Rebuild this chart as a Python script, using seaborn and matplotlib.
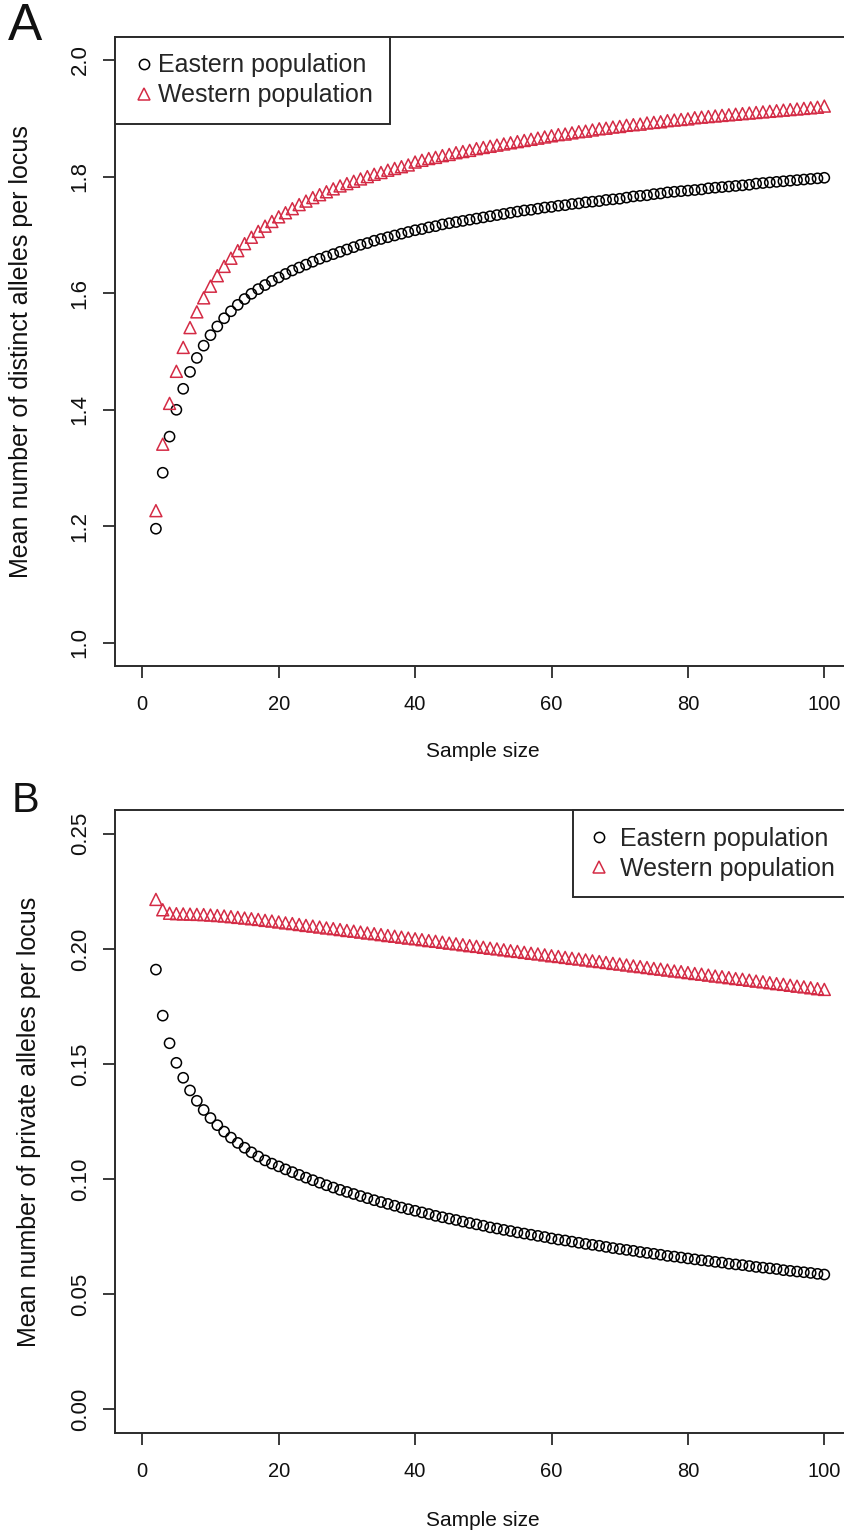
import numpy as np
import pandas as pd
import matplotlib
matplotlib.use("Agg")
import matplotlib.pyplot as plt
from matplotlib.lines import Line2D
import seaborn as sns

# ---------------- data ----------------
sample_size = list(range(2, 101))

eastern_distinct = [
    1.196, 1.292, 1.354, 1.400, 1.436, 1.465, 1.489, 1.510, 1.528, 1.543,
    1.557, 1.569, 1.580, 1.590, 1.599, 1.607, 1.614, 1.621, 1.627, 1.633,
    1.639, 1.644, 1.649, 1.654, 1.659, 1.663, 1.667, 1.671, 1.675, 1.679,
    1.683, 1.686, 1.690, 1.693, 1.696, 1.699, 1.702, 1.705, 1.708, 1.710,
    1.713, 1.715, 1.718, 1.720, 1.722, 1.724, 1.726, 1.728, 1.730, 1.732,
    1.734, 1.736, 1.738, 1.740, 1.742, 1.743, 1.745, 1.747, 1.748, 1.750,
    1.751, 1.753, 1.754, 1.756, 1.757, 1.758, 1.760, 1.761, 1.762, 1.764,
    1.766, 1.767, 1.768, 1.770, 1.771, 1.773, 1.774, 1.775, 1.776, 1.777,
    1.778, 1.780, 1.781, 1.782, 1.783, 1.784, 1.785, 1.786, 1.788, 1.789,
    1.790, 1.791, 1.792, 1.793, 1.794, 1.795, 1.796, 1.797, 1.798,
]

western_distinct = [
    1.227, 1.341, 1.411, 1.466, 1.507, 1.541, 1.568, 1.592, 1.612, 1.630,
    1.646, 1.660, 1.673, 1.685, 1.696, 1.706, 1.715, 1.723, 1.731, 1.738,
    1.745, 1.752, 1.758, 1.764, 1.769, 1.774, 1.779, 1.784, 1.788, 1.792,
    1.796, 1.800, 1.804, 1.807, 1.811, 1.814, 1.817, 1.820, 1.825, 1.828,
    1.831, 1.833, 1.836, 1.838, 1.841, 1.843, 1.845, 1.848, 1.850, 1.852,
    1.854, 1.856, 1.858, 1.860, 1.862, 1.864, 1.866, 1.868, 1.870, 1.872,
    1.873, 1.875, 1.877, 1.878, 1.880, 1.882, 1.883, 1.885, 1.886, 1.888,
    1.889, 1.890, 1.892, 1.893, 1.894, 1.896, 1.897, 1.898, 1.899, 1.901,
    1.902, 1.903, 1.904, 1.905, 1.906, 1.907, 1.908, 1.909, 1.910, 1.911,
    1.912, 1.913, 1.914, 1.915, 1.916, 1.917, 1.918, 1.919, 1.921,
]

eastern_private = [
    0.1910, 0.1710, 0.1590, 0.1505, 0.1440, 0.1385, 0.1340, 0.1300, 0.1265,
    0.1234, 0.1206, 0.1180, 0.1157, 0.1136, 0.1116, 0.1098, 0.1081, 0.1067,
    0.1055, 0.1042, 0.1030, 0.1018, 0.1006, 0.0995, 0.0984, 0.0973, 0.0963,
    0.0953, 0.0944, 0.0935, 0.0926, 0.0917, 0.0908, 0.0900, 0.0892, 0.0884,
    0.0876, 0.0869, 0.0862, 0.0855, 0.0848, 0.0840, 0.0834, 0.0828, 0.0822,
    0.0815, 0.0809, 0.0803, 0.0797, 0.0790, 0.0785, 0.0779, 0.0774, 0.0768,
    0.0763, 0.0758, 0.0753, 0.0748, 0.0742, 0.0737, 0.0733, 0.0728, 0.0723,
    0.0718, 0.0714, 0.0710, 0.0705, 0.0700, 0.0696, 0.0692, 0.0688, 0.0683,
    0.0679, 0.0675, 0.0671, 0.0666, 0.0663, 0.0659, 0.0655, 0.0651, 0.0647,
    0.0644, 0.0640, 0.0637, 0.0632, 0.0629, 0.0626, 0.0622, 0.0618, 0.0615,
    0.0612, 0.0609, 0.0604, 0.0601, 0.0598, 0.0595, 0.0592, 0.0588, 0.0585,
]

western_private = [
    0.2215, 0.2170, 0.2155, 0.2153, 0.2152, 0.2151, 0.2150, 0.2149, 0.2147,
    0.2145, 0.2143, 0.2140, 0.2137, 0.2134, 0.2131, 0.2128, 0.2124, 0.2121,
    0.2117, 0.2113, 0.2110, 0.2106, 0.2102, 0.2099, 0.2095, 0.2091, 0.2088,
    0.2084, 0.2080, 0.2077, 0.2073, 0.2069, 0.2066, 0.2062, 0.2058, 0.2055,
    0.2051, 0.2047, 0.2044, 0.2040, 0.2036, 0.2033, 0.2029, 0.2025, 0.2022,
    0.2018, 0.2014, 0.2011, 0.2007, 0.2003, 0.2000, 0.1996, 0.1992, 0.1989,
    0.1985, 0.1981, 0.1978, 0.1974, 0.1970, 0.1967, 0.1963, 0.1959, 0.1956,
    0.1952, 0.1948, 0.1945, 0.1941, 0.1937, 0.1934, 0.1930, 0.1926, 0.1923,
    0.1919, 0.1915, 0.1912, 0.1908, 0.1904, 0.1901, 0.1897, 0.1893, 0.1890,
    0.1886, 0.1882, 0.1879, 0.1875, 0.1871, 0.1868, 0.1864, 0.1860, 0.1857,
    0.1853, 0.1849, 0.1846, 0.1842, 0.1838, 0.1835, 0.1831, 0.1827, 0.1824,
]

series_labels = ["Eastern population", "Western population"]
x_ticks = [0, 20, 40, 60, 80, 100]
yticks_a = [1.0, 1.2, 1.4, 1.6, 1.8, 2.0]
yticks_b = [0.00, 0.05, 0.10, 0.15, 0.20, 0.25]
ylabel_a = "Mean number of distinct alleles per locus"
ylabel_b = "Mean number of private alleles per locus"
xlabel = "Sample size"

# ---------------- style ----------------
sns.set_theme(style="ticks")
plt.rcParams["font.family"] = ["Liberation Sans", "DejaVu Sans"]

RED = "#D42B45"
DARK = "#2b2b2b"
TXT = "#111111"

W, H = 845, 1534
fig = plt.figure(figsize=(W / 100, H / 100), dpi=100)
fig.patch.set_facecolor("white")

def px_axes(left, top, width, height):
    return fig.add_axes([left / W, 1 - (top + height) / H, width / W, height / H])

ax_a = px_axes(115, 36.7, 736.6, 629.6)
ax_b = px_axes(115, 809.9, 736.6, 623.2)

def draw_panel(ax, east, west, ylim, yticks, yfmt, ylabel, ylab_x, xlab_y):
    df = pd.DataFrame({"n": sample_size, "east": east, "west": west})
    sns.scatterplot(data=df, x="n", y="east", ax=ax, marker="o", s=54,
                    facecolors="none", edgecolor="black", linewidth=1.1,
                    zorder=3)
    sns.scatterplot(data=df, x="n", y="west", ax=ax, marker="^", s=74,
                    facecolors="none", edgecolor=RED, linewidth=1.1,
                    zorder=3)
    ax.set_xlim(-4, 104)
    ax.set_ylim(*ylim)
    ax.set_xticks(x_ticks)
    ax.set_xticklabels([str(t) for t in x_ticks], fontsize=14.5)
    ax.set_yticks(yticks)
    ax.set_yticklabels([yfmt.format(t) for t in yticks], fontsize=16,
                       rotation=90, va="center")
    for sp in ax.spines.values():
        sp.set_visible(True)
        sp.set_color(DARK)
        sp.set_linewidth(1.4)
    ax.tick_params(axis="both", direction="out", length=8.5, width=1.3,
                   color=DARK, labelcolor=TXT)
    ax.tick_params(axis="x", pad=12)
    ax.tick_params(axis="y", pad=9)
    ax.set_xlabel(xlabel, fontsize=15, color=TXT)
    ax.set_ylabel(ylabel, fontsize=18, color=TXT)
    ax.yaxis.set_label_coords(ylab_x, 0.5)
    ax.xaxis.set_label_coords(0.5, xlab_y)
    ax.grid(False)
    ax.set_facecolor("white")

draw_panel(ax_a, eastern_distinct, western_distinct, (0.96, 2.04), yticks_a,
           "{:.1f}", ylabel_a, -0.111, -0.120)
draw_panel(ax_b, eastern_private, western_private, (-0.0104, 0.2604), yticks_b,
           "{:.2f}", ylabel_b, -0.1005, -0.125)

def make_handles():
    return [
        Line2D([], [], linestyle="none", marker="o", markersize=7.4,
               markerfacecolor="none", markeredgecolor="black",
               markeredgewidth=1.1),
        Line2D([], [], linestyle="none", marker="^", markersize=8.6,
               markerfacecolor="none", markeredgecolor=RED,
               markeredgewidth=1.1),
    ]

leg_a = ax_a.legend(make_handles(), series_labels, loc="upper left",
                    bbox_to_anchor=(0, 1), borderaxespad=0, fontsize=18,
                    frameon=True, fancybox=False, framealpha=1,
                    edgecolor=DARK, borderpad=0.67, labelspacing=0.24,
                    handlelength=1.0, handletextpad=0.05)
leg_a.get_frame().set_linewidth(1.4)

leg_b = ax_b.legend(make_handles(), series_labels, loc="upper right",
                    bbox_to_anchor=(1, 1), borderaxespad=0, fontsize=18,
                    frameon=True, fancybox=False, framealpha=1,
                    edgecolor=DARK, borderpad=0.67, labelspacing=0.24,
                    handlelength=0.7, handletextpad=0.5)
leg_b.get_frame().set_linewidth(1.4)

fig.text(8 / W, 1 - 2 / H, "A", fontsize=37, va="top", ha="left", color=TXT)
fig.text(12 / W, 1 - 781 / H, "B", fontsize=30, va="top", ha="left", color=TXT)

fig.savefig("out.png", dpi=100, facecolor="white")
